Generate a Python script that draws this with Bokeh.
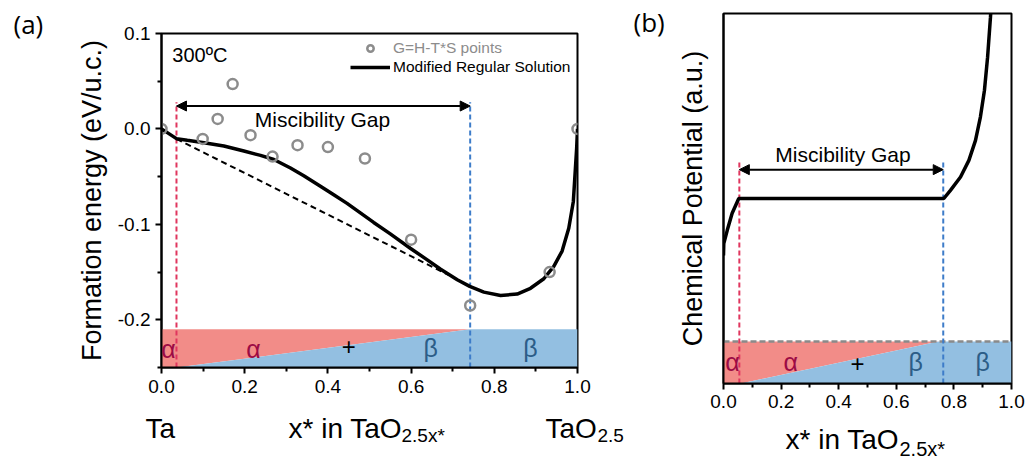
from bokeh.plotting import figure
from bokeh.models import (Label, Arrow, NormalHead, Legend, LegendItem,
                          FixedTicker, PrintfTickFormatter)
from bokeh.layouts import row, column
from bokeh.embed import file_html
from bokeh.resources import INLINE

FONT = "Liberation Sans"

# ---------------- Panel (a) data ----------------
pts_x = [0.0, 0.099, 0.135, 0.171, 0.214, 0.267, 0.327, 0.40, 0.489, 0.60, 0.742, 0.933, 1.0]
pts_y = [0.0, -0.0105, 0.0105, 0.047, -0.0065, -0.029, -0.017, -0.019, -0.031, -0.116, -0.185, -0.150, 0.0]

mrs_x = [0.0, 0.014, 0.036, 0.062, 0.102, 0.15, 0.198, 0.238, 0.27, 0.31, 0.342, 0.382, 0.414,
         0.446, 0.478, 0.51, 0.55, 0.598, 0.638, 0.671, 0.711, 0.741, 0.775, 0.815, 0.855,
         0.887, 0.919, 0.943, 0.963, 0.979, 0.99, 0.995, 0.998, 1.0]
mrs_y = [0.0, -0.0039, -0.0102, -0.0119, -0.0144, -0.0179, -0.0232, -0.0277, -0.032, -0.041,
         -0.049, -0.060, -0.069, -0.078, -0.088, -0.098, -0.110, -0.125, -0.137, -0.147,
         -0.158, -0.165, -0.171, -0.1745, -0.173, -0.167, -0.157, -0.144, -0.128, -0.104,
         -0.076, -0.041, -0.02, 0.0]

tangent_x = [0.036, 0.69]
tangent_y = [-0.0105, -0.153]
gap_a = [0.036, 0.742]        # miscibility gap boundaries (a)
band_a = [-0.25, -0.21]       # phase bar bottom / top (a)
x_ticks = [0.0, 0.2, 0.4, 0.6, 0.8, 1.0]
x_minor = [0.1, 0.3, 0.5, 0.7, 0.9]
y_ticks_a = [-0.2, -0.1, 0.0, 0.1]
y_minor_a = [-0.25, -0.15, -0.05, 0.05]

# ---------------- Panel (b) data ----------------
mu_x = [0.0, 0.001, 0.013, 0.03, 0.053, 0.765, 0.788, 0.823, 0.852, 0.875, 0.892, 0.906, 0.917, 0.927, 0.931]
mu_y = [0.346, 0.378, 0.414, 0.46, 0.5, 0.5, 0.522, 0.558, 0.603, 0.657, 0.72, 0.792, 0.882, 0.99, 1.04]
gap_b = [0.055, 0.763]
tri_b = [0.06, 0.747]
band_b = [0.0, 0.1135]

RED_FILL = "#f28c88"
BLUE_FILL = "#93bfe1"
ALPHA_C = "#9c0b45"
BETA_C = "#2c5d88"
RED_LINE = "#e0365e"
BLUE_LINE = "#3d7cc9"

# ---------------- page geometry (pixels) ----------------
W_FA, W_PA, W_FB, W_PB = 52, 580, 42, 357
H = 463
PA_H, PB_H = 403, 418
PA_FRAME = dict(left=109, right=55, top=33, bottom=PA_H - 367)
PB_FRAME = dict(left=49, right=20, top=13, bottom=PB_H - 383)


def style_axes(p, yticks, yminor):
    p.grid.visible = False
    p.outline_line_color = "black"
    p.outline_line_width = 2
    for ax in (p.xaxis[0], p.yaxis[0]):
        ax.axis_line_width = 2
        ax.major_tick_line_width = 2
        ax.minor_tick_line_width = 2
        ax.major_tick_in = 0
        ax.major_tick_out = 6
        ax.minor_tick_in = 0
        ax.minor_tick_out = 4
        ax.major_label_text_font = FONT
        ax.major_label_text_font_size = "19px"
        ax.major_label_text_color = "black"
        ax.axis_label_text_font = FONT
        ax.axis_label_text_font_style = "normal"
        ax.axis_label_text_color = "black"
        ax.axis_label_text_font_size = "27px"
        ax.formatter = PrintfTickFormatter(format="%.1f")
    p.xaxis[0].ticker = FixedTicker(ticks=x_ticks, minor_ticks=x_minor)
    p.xaxis[0].major_label_standoff = 6
    p.yaxis[0].ticker = FixedTicker(ticks=yticks, minor_ticks=yminor)
    p.yaxis[0].major_label_standoff = 5


def borders(p, b):
    p.min_border_left = b["left"]
    p.min_border_right = b["right"]
    p.min_border_top = b["top"]
    p.min_border_bottom = b["bottom"]


def text_fig(width, height):
    # a bare strip whose data units are its own pixels (origin bottom-left)
    f = figure(width=width, height=height, x_range=(0, width), y_range=(0, height),
               x_axis_type=None, y_axis_type=None,
               output_backend="svg", toolbar_location=None)
    f.outline_line_color = None
    f.min_border = 0
    f.min_border_left = 0
    f.min_border_right = 0
    f.min_border_top = 0
    f.min_border_bottom = 0
    return f


def lab(p, x, y, text, size, color="black", align="left", baseline="middle", font=FONT):
    p.add_layout(Label(x=x, y=y, text=text, text_font=font, text_font_size=size,
                       text_color=color, text_align=align, text_baseline=baseline))


# ================= Panel (a) =================
ya0, ya1 = -0.25, 0.1
pa = figure(width=W_PA, height=PA_H, x_range=(0, 1), y_range=(ya0, ya1),
            output_backend="svg", toolbar_location=None)
borders(pa, PA_FRAME)
style_axes(pa, y_ticks_a, y_minor_a)
pa.yaxis[0].axis_label = "Formation energy (eV/u.c.)"
pa.yaxis[0].axis_label_standoff = 8

b0, b1 = band_a
pa.patch([0, 0, gap_a[1], gap_a[0]], [b0, b1, b1, b0], fill_color=RED_FILL, line_color=None)
pa.patch([gap_a[0], gap_a[1], 1, 1], [b0, b1, b1, b0], fill_color=BLUE_FILL, line_color=None)

pa.segment(x0=[gap_a[0]], y0=[b0], x1=[gap_a[0]], y1=[0.028], line_color=RED_LINE,
           line_width=2, line_dash="5 3")
pa.segment(x0=[gap_a[1]], y0=[b0], x1=[gap_a[1]], y1=[0.028], line_color=BLUE_LINE,
           line_width=2, line_dash="5 3")

pa.line(tangent_x, tangent_y, line_color="black", line_width=2, line_dash="6 4")
r_line = pa.line(mrs_x, mrs_y, line_color="black", line_width=3.5)
r_pts = pa.scatter(pts_x, pts_y, marker="circle", size=10, fill_color=None,
                   line_color="#8c8c8c", line_width=2.5)

pa.add_layout(Arrow(start=NormalHead(size=10, fill_color="black", line_color="black"),
                    end=NormalHead(size=10, fill_color="black", line_color="black"),
                    x_start=gap_a[0], y_start=0.024, x_end=gap_a[1], y_end=0.024,
                    line_width=2, line_color="black"))

lab(pa, 0.387, 0.0094, "Miscibility Gap", "21px", align="center")
lab(pa, 0.026, 0.077, "300ºC", "20px")

lab(pa, 0.017, -0.2305, "α", "25px", ALPHA_C, "center")
lab(pa, 0.221, -0.2305, "α", "25px", ALPHA_C, "center")
lab(pa, 0.45, -0.228, "+", "24px", "black", "center")
lab(pa, 0.647, -0.2295, "β", "25px", BETA_C, "center")
lab(pa, 0.887, -0.2295, "β", "25px", BETA_C, "center")

leg1 = Legend(items=[LegendItem(label="G=H-T*S points", renderers=[r_pts])],
              location=(189, 310))
leg2 = Legend(items=[LegendItem(label="Modified Regular Solution", renderers=[r_line])],
              location=(189, 291))
for lg, col in ((leg1, "#8c8c8c"), (leg2, "black")):
    lg.border_line_color = None
    lg.background_fill_alpha = 0
    lg.padding = 0
    lg.margin = 0
    lg.glyph_width = 40
    lg.glyph_height = 16
    lg.label_standoff = 3
    lg.label_text_font = FONT
    lg.label_text_font_size = "15.5px"
    lg.label_text_color = col
    lg.label_height = 16
    pa.add_layout(lg)

# strip below panel (a): composition labels (strip pixels, left edges)
sa = text_fig(W_PA, H - PA_H)
lab(sa, 93, 35, "Ta", "28px")
lab(sa, 236, 35, "x* in TaO", "28px")
lab(sa, 349, 28, "2.5x*", "19px")
lab(sa, 493, 35, "TaO", "28px")
lab(sa, 545, 28, "2.5", "19px")

fa = text_fig(W_FA, H)
lab(fa, 13, H - 23, "(a)", "26px", font="Open Sans")

# ================= Panel (b) =================
pb = figure(width=W_PB, height=PB_H, x_range=(0, 1), y_range=(0, 1),
            output_backend="svg", toolbar_location=None)
borders(pb, PB_FRAME)
style_axes(pb, [], [])
pb.xaxis[0].major_label_standoff = 5
pb.yaxis[0].axis_label = "Chemical Potential (a.u.)"
pb.yaxis[0].axis_label_standoff = 16
pb.yaxis[0].major_tick_out = 0
pb.yaxis[0].minor_tick_out = 0

c0, c1 = band_b
pb.patch([0, 0, tri_b[1], tri_b[0]], [c0, c1, c1, c0], fill_color=RED_FILL, line_color=None)
pb.patch([tri_b[0], tri_b[1], 1, 1], [c0, c1, c1, c0], fill_color=BLUE_FILL, line_color=None)
pb.line([0, 1], [c1, c1], line_color="#8a8a8a", line_width=2.5, line_dash="6 3")

pb.segment(x0=[gap_b[0]], y0=[c0], x1=[gap_b[0]], y1=[0.597], line_color=RED_LINE,
           line_width=2, line_dash="5 3")
pb.segment(x0=[gap_b[1]], y0=[c0], x1=[gap_b[1]], y1=[0.597], line_color=BLUE_LINE,
           line_width=2, line_dash="5 3")

pb.line(mu_x, mu_y, line_color="black", line_width=3.5)

pb.add_layout(Arrow(start=NormalHead(size=10, fill_color="black", line_color="black"),
                    end=NormalHead(size=10, fill_color="black", line_color="black"),
                    x_start=gap_b[0], y_start=0.578, x_end=gap_b[1], y_end=0.578,
                    line_width=2, line_color="black"))
lab(pb, 0.415, 0.620, "Miscibility Gap", "21px", align="center")

lab(pb, 0.031, 0.059, "α", "25px", ALPHA_C, "center")
lab(pb, 0.233, 0.059, "α", "25px", ALPHA_C, "center")
lab(pb, 0.465, 0.054, "+", "24px", "black", "center")
lab(pb, 0.667, 0.059, "β", "25px", BETA_C, "center")
lab(pb, 0.9, 0.059, "β", "25px", BETA_C, "center")

sb = text_fig(W_PB, H - PB_H)
lab(sb, 111, 24, "x* in TaO", "28px")
lab(sb, 225, 15, "2.5x*", "20px")

fb = text_fig(W_FB, H)
lab(fb, 1, H - 21, "(b)", "26px", font="Open Sans")

# every plot is wrapped in its own column so that no two plots share a row/column
# (Bokeh would otherwise align their frames)
layout = row(column(fa),
             column(column(pa), column(sa)),
             column(fb),
             column(column(pb), column(sb)))
open("out.html", "w").write(file_html(layout, INLINE))
